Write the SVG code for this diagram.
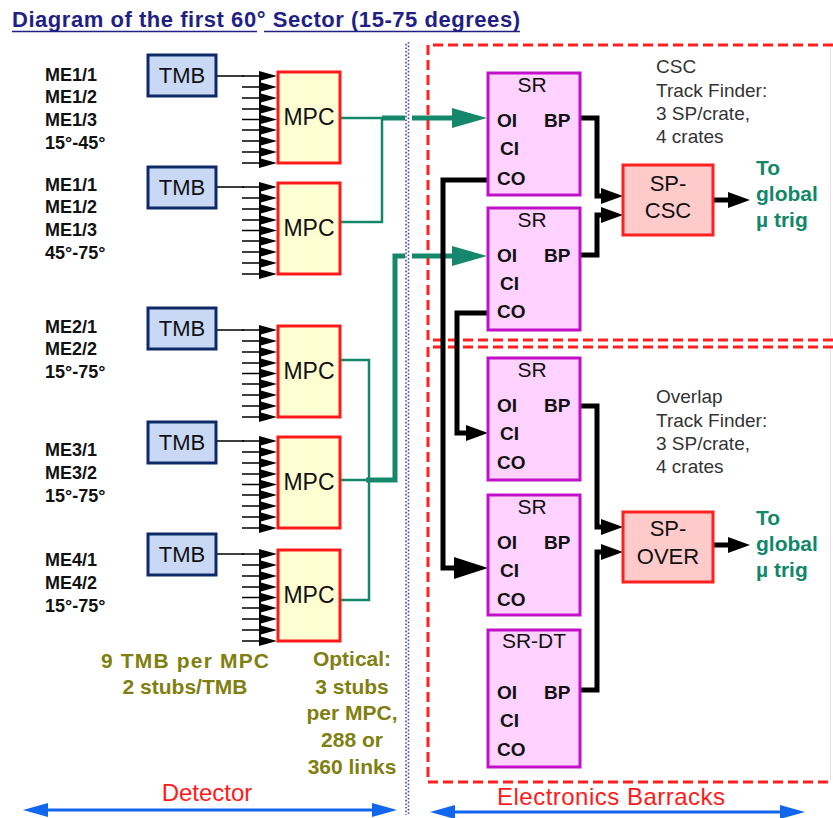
<svg xmlns="http://www.w3.org/2000/svg" xmlns:xlink="http://www.w3.org/1999/xlink" width="833" height="818" viewBox="0 0 833 818">
<style>
text{font-family:"Liberation Sans",Arial,sans-serif}
.tmb rect{fill:#c9d9f5;stroke:#0d2a66;stroke-width:3}
.mpc rect{fill:#fefed2;stroke:#ff1a1a;stroke-width:3}
.sr rect{fill:#ffd2ff;stroke:#c010c8;stroke-width:3}
.sp rect{fill:#ffcaca;stroke:#ff2020;stroke-width:3}
.big{font-size:22px;fill:#111;text-anchor:middle}
.mpct{font-size:23px;fill:#111;text-anchor:middle}
.srt{font-size:21px;fill:#111;text-anchor:middle}
.port{font-size:19px;font-weight:bold;fill:#111}
.me{font-size:18px;font-weight:bold;fill:#111}
.olive{font-size:21px;font-weight:bold;fill:#808010;text-anchor:middle}
.info{font-size:19px;fill:#333}
.glob{font-size:21px;font-weight:bold;fill:#12876a}
.red{font-size:24px;fill:#ff1a1a;text-anchor:middle}
.teal{fill:none;stroke:#15876a}
.blk{fill:none;stroke:#000;stroke-width:5}
.dash{fill:none;stroke:#ff2020;stroke-width:3;stroke-dasharray:10 5}
</style>
<defs>
<marker id="ah" viewBox="0 0 22 16" refX="4" refY="8" markerWidth="22" markerHeight="16" markerUnits="userSpaceOnUse" orient="auto"><path d="M0,0 L22,8 L0,16 z" fill="#000"/></marker>
<marker id="ahL" viewBox="0 0 34 22" refX="4" refY="11" markerWidth="34" markerHeight="22" markerUnits="userSpaceOnUse" orient="auto"><path d="M0,0 L34,11 L0,22 z" fill="#000"/></marker>
<marker id="ahT" viewBox="0 0 35 20" refX="4" refY="10" markerWidth="35" markerHeight="20" markerUnits="userSpaceOnUse" orient="auto"><path d="M0,0 L35,10 L0,20 z" fill="#15876a"/></marker>
<marker id="ahB" viewBox="0 0 25 14" refX="4" refY="7" markerWidth="25" markerHeight="14" markerUnits="userSpaceOnUse" orient="auto-start-reverse"><path d="M0,0 L25,7 L0,14 z" fill="#1166ee"/></marker>
<g id="stubs">
<path d="M242 4H262M242 15H262M242 26H262M242 37H262M242 47.5H262M242 58H262M242 69H262M242 80H262M242 91H262" stroke="#000" stroke-width="1.5"/>
<path d="M260 0V95" stroke="#000" stroke-width="2"/>
<path d="M259 -1L277 4L259 9ZM259 10L277 15L259 20ZM259 21L277 26L259 31ZM259 32L277 37L259 42ZM259 42.5L277 47.5L259 52.5ZM259 53L277 58L259 63ZM259 64L277 69L259 74ZM259 75L277 80L259 85ZM259 86L277 91L259 96Z" fill="#000"/>
</g>
</defs>
<rect width="833" height="818" fill="#fff"/>

<g id="title">
<text x="12" y="27" font-size="22" font-weight="bold" fill="#1f1f86" textLength="508" lengthAdjust="spacing">Diagram of the first 60° Sector (15-75 degrees)</text>
<path d="M12 31.5H257M264 31.5H520" stroke="#1f1f86" stroke-width="1.5"/>
</g>

<g id="regions">
<path d="M408.5 42V815" stroke="#4848b8" stroke-width="1.6" stroke-dasharray="1.6 2"/>
<path d="M406 43.8V815" stroke="#4848b8" stroke-width="1.6" stroke-dasharray="1.6 2"/>
<path d="M833 45H428V340H833" class="dash"/>
<path d="M833 347H428V782H833" class="dash"/>
<path d="M830.5 47V338M830.5 349V780" stroke="#e2e2e2" stroke-width="1"/>
</g>

<g id="chamber-labels">
<text class="me" x="45" y="81">ME1/1</text>
<text class="me" x="45" y="103">ME1/2</text>
<text class="me" x="45" y="126">ME1/3</text>
<text class="me" x="45" y="149">15°-45°</text>
<text class="me" x="45" y="191">ME1/1</text>
<text class="me" x="45" y="213">ME1/2</text>
<text class="me" x="45" y="236">ME1/3</text>
<text class="me" x="45" y="259">45°-75°</text>
<text class="me" x="45" y="333">ME2/1</text>
<text class="me" x="45" y="355">ME2/2</text>
<text class="me" x="45" y="378">15°-75°</text>
<text class="me" x="45" y="456">ME3/1</text>
<text class="me" x="45" y="479">ME3/2</text>
<text class="me" x="45" y="502">15°-75°</text>
<text class="me" x="45" y="566">ME4/1</text>
<text class="me" x="45" y="589">ME4/2</text>
<text class="me" x="45" y="612">15°-75°</text>
</g>

<g id="connectors">
<use xlink:href="#stubs" href="#stubs" y="72"/>
<use xlink:href="#stubs" href="#stubs" y="183"/>
<use xlink:href="#stubs" href="#stubs" y="326"/>
<use xlink:href="#stubs" href="#stubs" y="437"/>
<use xlink:href="#stubs" href="#stubs" y="550"/>
<path d="M217 76H244M217 187H244M217 330H244M217 441H244M217 554H244" stroke="#000" stroke-width="1.5"/>
<path class="teal" stroke-width="2.5" d="M340 118H382V222H340"/>
<path class="teal" stroke-width="2.5" d="M340 360H369V600H340M340 480H369"/>
<path class="teal" stroke-width="5" d="M382 118H405"/>
<path class="teal" stroke-width="5" d="M412 118H456" marker-end="url(#ahT)"/>
<path class="teal" stroke-width="5" d="M366 480H395V256H405"/>
<path class="teal" stroke-width="5" d="M412 256H456" marker-end="url(#ahT)"/>
<path class="blk" d="M580 118H597V196H605" marker-end="url(#ah)"/>
<path class="blk" d="M580 255H597V215H605" marker-end="url(#ah)"/>
<path class="blk" d="M580 406H597V527H605" marker-end="url(#ah)"/>
<path class="blk" d="M580 690H597V552H605" marker-end="url(#ah)"/>
<path class="blk" stroke-width="4" d="M713 200H732" marker-end="url(#ah)"/>
<path class="blk" stroke-width="4" d="M713 545H732" marker-end="url(#ah)"/>
<path class="blk" d="M488 180H443V568H458" marker-end="url(#ahL)"/>
<path class="blk" d="M488 313H457V433H470" marker-end="url(#ah)"/>
<path d="M44 810H376" stroke="#1166ee" stroke-width="3" marker-start="url(#ahB)" marker-end="url(#ahB)"/>
<path d="M451 812H784" stroke="#1166ee" stroke-width="3" marker-start="url(#ahB)" marker-end="url(#ahB)"/>
</g>

<g id="tmb1" class="tmb"><rect x="148" y="55" width="68" height="41"/><text class="big" x="182" y="83">TMB</text></g>
<g id="tmb2" class="tmb"><rect x="148" y="167" width="68" height="41"/><text class="big" x="182" y="195">TMB</text></g>
<g id="tmb3" class="tmb"><rect x="148" y="308" width="68" height="41"/><text class="big" x="182" y="336">TMB</text></g>
<g id="tmb4" class="tmb"><rect x="148" y="422" width="68" height="41"/><text class="big" x="182" y="450">TMB</text></g>
<g id="tmb5" class="tmb"><rect x="148" y="534" width="68" height="41"/><text class="big" x="182" y="562">TMB</text></g>

<g id="mpc1" class="mpc"><rect x="278" y="72" width="62" height="91"/><text class="mpct" x="309" y="125">MPC</text></g>
<g id="mpc2" class="mpc"><rect x="278" y="183" width="62" height="91"/><text class="mpct" x="309" y="236">MPC</text></g>
<g id="mpc3" class="mpc"><rect x="278" y="326" width="62" height="91"/><text class="mpct" x="309" y="379">MPC</text></g>
<g id="mpc4" class="mpc"><rect x="278" y="437" width="62" height="91"/><text class="mpct" x="309" y="490">MPC</text></g>
<g id="mpc5" class="mpc"><rect x="278" y="550" width="62" height="91"/><text class="mpct" x="309" y="603">MPC</text></g>

<g id="sr1" class="sr"><rect x="488" y="73" width="92" height="122"/>
<text class="srt" x="532" y="92">SR</text><text class="port" x="497" y="127">OI</text><text class="port" x="544" y="127">BP</text><text class="port" x="500" y="155">CI</text><text class="port" x="497" y="185">CO</text></g>
<g id="sr2" class="sr"><rect x="488" y="208" width="92" height="122"/>
<text class="srt" x="532" y="227">SR</text><text class="port" x="497" y="262">OI</text><text class="port" x="544" y="262">BP</text><text class="port" x="500" y="290">CI</text><text class="port" x="497" y="318">CO</text></g>
<g id="sr3" class="sr"><rect x="488" y="358" width="92" height="122"/>
<text class="srt" x="532" y="377">SR</text><text class="port" x="497" y="412">OI</text><text class="port" x="544" y="412">BP</text><text class="port" x="500" y="440">CI</text><text class="port" x="497" y="469">CO</text></g>
<g id="sr4" class="sr"><rect x="488" y="495" width="92" height="120"/>
<text class="srt" x="532" y="514">SR</text><text class="port" x="497" y="549">OI</text><text class="port" x="544" y="549">BP</text><text class="port" x="500" y="577">CI</text><text class="port" x="497" y="606">CO</text></g>
<g id="srdt" class="sr"><rect x="488" y="630" width="92" height="137"/>
<text class="srt" x="534" y="648">SR-DT</text><text class="port" x="497" y="699">OI</text><text class="port" x="544" y="699">BP</text><text class="port" x="500" y="727">CI</text><text class="port" x="497" y="756">CO</text></g>

<g id="sp-csc" class="sp"><rect x="623" y="165" width="90" height="70"/><text class="big" x="668" y="191">SP-</text><text class="big" x="668" y="218">CSC</text></g>
<g id="sp-over" class="sp"><rect x="623" y="512" width="90" height="70"/><text class="big" x="668" y="536">SP-</text><text class="big" x="668" y="564">OVER</text></g>

<g id="csc-note">
<text class="info" x="656" y="73">CSC</text>
<text class="info" x="656" y="97">Track Finder:</text>
<text class="info" x="656" y="120">3 SP/crate,</text>
<text class="info" x="656" y="143">4 crates</text>
</g>
<g id="overlap-note">
<text class="info" x="656" y="403">Overlap</text>
<text class="info" x="656" y="427">Track Finder:</text>
<text class="info" x="656" y="450">3 SP/crate,</text>
<text class="info" x="656" y="473">4 crates</text>
</g>
<g id="global1">
<text class="glob" x="756" y="175">To</text>
<text class="glob" x="756" y="201">global</text>
<text class="glob" x="756" y="227">µ trig</text>
</g>
<g id="global2">
<text class="glob" x="756" y="525">To</text>
<text class="glob" x="756" y="551">global</text>
<text class="glob" x="756" y="577">µ trig</text>
</g>
<g id="notes">
<text class="olive" x="185" y="668" textLength="168" lengthAdjust="spacing">9 TMB per MPC</text>
<text class="olive" x="185" y="694">2 stubs/TMB</text>
<text class="olive" x="352" y="666">Optical:</text>
<text class="olive" x="352" y="694">3 stubs</text>
<text class="olive" x="352" y="720">per MPC,</text>
<text class="olive" x="352" y="747">288 or</text>
<text class="olive" x="352" y="774">360 links</text>
<text class="red" x="207" y="801">Detector</text>
<text class="red" x="611" y="805" textLength="228" lengthAdjust="spacing">Electronics Barracks</text>
</g>
</svg>
